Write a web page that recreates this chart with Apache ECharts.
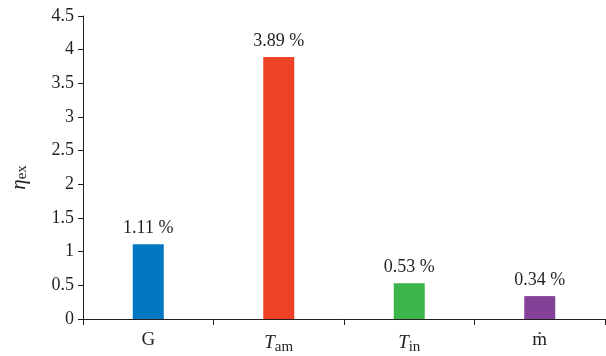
<!DOCTYPE html>
<html>
<head>
<meta charset="utf-8">
<script src="https://cdn.jsdelivr.net/npm/echarts@6/dist/echarts.min.js"></script>
<style>html,body{margin:0;padding:0;background:#fff}#c{width:606px;height:356px}</style>
</head>
<body>
<div id="c"></div>
<script>
const categories = ['G', 'T_am', 'T_in', 'ṁ'];
const values = [1.11, 3.89, 0.53, 0.34];
const colors = ['#0077c0', '#ee4226', '#3db54a', '#834198'];
const yTicks = { min: 0, max: 4.5, interval: 0.5 };

const FONT = 'Liberation Serif';
const TXT = '#231f20';
const chart = echarts.init(document.getElementById('c'));
chart.setOption({
  animation: false,
  grid: { left: 83, right: 1, top: 16, bottom: 37, containLabel: false, outerBoundsMode: 'none' },
  xAxis: {
    type: 'category',
    data: categories,
    axisLine: { lineStyle: { color: TXT, width: 1 } },
    axisTick: { show: true, length: 6, lineStyle: { color: TXT } },
    axisLabel: {
      margin: 12,
      formatter: function (v) {
        if (v.indexOf('_') > 0) {
          const p = v.split('_');
          return '{it|' + p[0] + '}{sub|' + p[1] + '}';
        }
        return '{n|' + v + '}';
      },
      rich: {
        it: { fontFamily: FONT, fontStyle: 'italic', fontSize: 19, color: TXT },
        sub: { fontFamily: FONT, fontSize: 15, color: TXT, verticalAlign: 'bottom', padding: [9, 0, 0, 0] },
        n: { fontFamily: FONT, fontSize: 19, color: TXT }
      }
    }
  },
  yAxis: {
    type: 'value',
    min: yTicks.min, max: yTicks.max, interval: yTicks.interval,
    name: '{i|η}{s|ex}',
    nameLocation: 'middle',
    nameRotate: 90,
    nameGap: 53,
    nameTextStyle: {
      padding: [0, 20, 0, 0],
      rich: {
        i: { fontFamily: FONT, fontStyle: 'italic', fontSize: 21, color: TXT },
        s: { fontFamily: FONT, fontSize: 15, color: TXT, verticalAlign: 'bottom', padding: [7, 0, 0, 0] }
      }
    },
    splitLine: { show: false },
    axisLine: { show: true, lineStyle: { color: TXT, width: 1 } },
    axisTick: { show: true, length: 5, lineStyle: { color: TXT } },
    axisLabel: { fontFamily: FONT, fontSize: 18, color: TXT, margin: 9 }
  },
  series: [{
    type: 'bar',
    barWidth: 31,
    data: values.map((v, i) => ({ value: v, itemStyle: { color: colors[i] } })),
    label: {
      show: true, position: 'top', distance: 7,
      fontFamily: FONT, fontSize: 18, color: TXT,
      formatter: p => p.value.toFixed(2) + ' %'
    }
  }]
});
</script>
</body>
</html>
